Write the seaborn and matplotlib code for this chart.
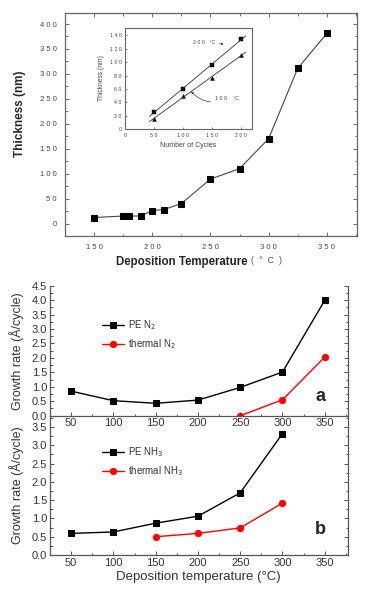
import numpy as np
import matplotlib
matplotlib.use("Agg")
import matplotlib.pyplot as plt
from matplotlib.ticker import MultipleLocator, FuncFormatter
import seaborn as sns

# --- data ---
temps = [150, 175, 180, 190, 200, 210, 225, 250, 275, 300, 325, 350]
thickness = [12, 15, 15, 15, 26, 28, 40, 89, 110, 170, 311, 381]

cycles = [50, 100, 150, 200]
thick_200C = [26, 60, 95, 135]
thick_100C = [15, 50, 77, 110]
fit_span = [42, 208]

dep_temp = [50, 100, 150, 200, 250, 300, 350]
pe_n2 = [0.85, 0.52, 0.43, 0.54, 0.98, 1.51, 3.99]
thermal_n2_temp = [250, 300, 350]
thermal_n2 = [0.0, 0.55, 2.03]

pe_nh3_temp = [50, 100, 150, 200, 250, 300]
pe_nh3 = [0.59, 0.63, 0.87, 1.06, 1.70, 3.32]
thermal_nh3_temp = [150, 200, 250, 300]
thermal_nh3 = [0.50, 0.59, 0.74, 1.42]

sns.set_style("ticks")
plt.rcParams['font.family'] = ['Liberation Sans', 'DejaVu Sans']


def spaced(v, pos=None):
    # the original figure prints its digits letter-spaced
    return " ".join(str(int(round(v))))


fig = plt.figure(figsize=(3.79, 6.06), dpi=100)

# 1. Thickness vs deposition temperature
ax1 = fig.add_axes([0.1715, 0.6106, 0.7705, 0.3679])
sns.lineplot(x=temps, y=thickness, ax=ax1, color='#444444', linewidth=0.8,
             marker='s', markersize=4.5, markerfacecolor='black',
             markeredgecolor='black')
ax1.set_xlim(125, 376)
ax1.set_ylim(-25, 422)
ax1.xaxis.set_major_locator(MultipleLocator(50))
ax1.xaxis.set_minor_locator(MultipleLocator(25))
ax1.yaxis.set_major_locator(MultipleLocator(50))
ax1.yaxis.set_minor_locator(MultipleLocator(25))
ax1.xaxis.set_major_formatter(FuncFormatter(spaced))
ax1.yaxis.set_major_formatter(FuncFormatter(spaced))
ax1.tick_params(which='both', direction='in', top=True, right=True,
                labelsize=5.5, labelcolor='#444444', color='#555555', width=0.6)
ax1.tick_params(which='major', length=3, pad=6)
ax1.tick_params(which='minor', length=1.8)
for s in ax1.spines.values():
    s.set_color('#666666')
    s.set_linewidth(0.9)
ax1.set_ylabel("Thickness (nm)", fontsize=8.5, fontweight='bold')
ax1.yaxis.set_label_coords(-0.133, 0.55)
ax1.set_xlabel("")
fig.text(247 / 379, 1 - 262 / 606, "Deposition Temperature", ha='right',
         va='center', fontsize=8.3, fontweight='bold')
fig.text(251 / 379, 1 - 261 / 606, "(  °  C  )", ha='left', va='center',
         fontsize=6.5, color='#555555')

# inset: thickness vs number of cycles
ins = fig.add_axes([0.33, 0.787, 0.335, 0.1668])
for ys, mk in [(thick_200C, 's'), (thick_100C, '^')]:
    slope, icept = np.polyfit(cycles, ys, 1)
    span = np.array(fit_span)
    sns.lineplot(x=span, y=slope * span + icept, ax=ins, color='#333333',
                 linewidth=0.6)
    sns.scatterplot(x=cycles, y=ys, ax=ins, marker=mk, s=8, color='black',
                    edgecolor='black', linewidth=0.3)
ins.set_xlim(0, 219)
ins.set_ylim(0, 151)
ins.xaxis.set_major_locator(MultipleLocator(50))
ins.yaxis.set_major_locator(MultipleLocator(20))
ins.xaxis.set_major_formatter(FuncFormatter(spaced))
ins.yaxis.set_major_formatter(FuncFormatter(spaced))
ins.tick_params(which='both', direction='in', labelsize=3.8, length=1.5,
                width=0.4, pad=2.5, labelcolor='#444444')
for s in ins.spines.values():
    s.set_color('#666666')
    s.set_linewidth(0.8)
ins.set_xlabel("Number of Cycles", fontsize=5, color='#444444', labelpad=3)
ins.set_ylabel("Thickness (nm)", fontsize=4.8, color='#444444', labelpad=3)
ins.annotate("2 0 0   °C", xy=(170, 127), xytext=(118, 129), fontsize=3.8,
             color='#444444', va='center',
             arrowprops=dict(arrowstyle='-|>', lw=0.4, color='#333333',
                             mutation_scale=3, shrinkA=0, shrinkB=0))
ins.annotate("1 0 0    °C", xy=(114, 56), xytext=(155, 45), fontsize=3.8,
             color='#444444', va='center',
             arrowprops=dict(arrowstyle='-|>', lw=0.5, color='#333333',
                             mutation_scale=3, shrinkA=1, shrinkB=0,
                             connectionstyle='arc3,rad=-0.35'))

# 2. Growth rate panels (b drawn first so a's tick labels sit on top)
axb = fig.add_axes([0.132, 0.0842, 0.785, 0.2298])
axa = fig.add_axes([0.132, 0.314, 0.785, 0.2146])
for ax in (axa, axb):
    ax.patch.set_alpha(0)

sns.lineplot(x=dep_temp, y=pe_n2, ax=axa, color='black', linewidth=1,
             marker='s', markersize=4.5, markeredgecolor='black',
             label='PE N$_2$')
sns.lineplot(x=thermal_n2_temp, y=thermal_n2, ax=axa, color='red',
             linewidth=1, marker='o', markersize=4.5, markeredgecolor='red',
             label='thermal N$_2$')
sns.lineplot(x=pe_nh3_temp, y=pe_nh3, ax=axb, color='black', linewidth=1,
             marker='s', markersize=4.5, markeredgecolor='black',
             label='PE NH$_3$')
sns.lineplot(x=thermal_nh3_temp, y=thermal_nh3, ax=axb, color='red',
             linewidth=1, marker='o', markersize=4.5, markeredgecolor='red',
             label='thermal NH$_3$')

axa.set_ylim(0, 4.5)
axb.set_ylim(0, 3.81)
for ax, tag, leg_y in [(axa, 'a', 0.622), (axb, 'b', 0.671)]:
    ax.set_xlim(25, 377)
    ax.xaxis.set_major_locator(MultipleLocator(50))
    ax.xaxis.set_minor_locator(MultipleLocator(25))
    ax.yaxis.set_major_locator(MultipleLocator(0.5))
    ax.yaxis.set_minor_locator(MultipleLocator(0.25))
    ax.yaxis.set_major_formatter(FuncFormatter(lambda v, p: f"{v:.1f}"))
    ax.tick_params(which='both', direction='in', right=True, width=0.7,
                   labelsize=8, labelcolor='#333333', color='#555555')
    ax.tick_params(which='major', length=3, pad=2)
    ax.tick_params(which='minor', length=1.8)
    ax.spines['top'].set_visible(False)
    for s in ('left', 'right', 'bottom'):
        ax.spines[s].set_color('#555555')
        ax.spines[s].set_linewidth(0.9)
    ax.set_ylabel("Growth rate (Å/cycle)", fontsize=9, color='#333333')
    ax.yaxis.set_label_coords(-0.088, 0.5)
    ax.text(0.91, 0.15 if tag == 'a' else 0.18, tag, transform=ax.transAxes,
            fontsize=13, fontweight='bold', ha='center', va='center')
    ax.legend(loc='center left', bbox_to_anchor=(0.175, leg_y), frameon=False,
              fontsize=7, handlelength=2.3, handletextpad=0.4,
              labelspacing=0.55, borderpad=0, borderaxespad=0,
              labelcolor='#333333')
axa.set_xlabel("")
axb.set_xlabel("Deposition temperature (°C)", fontsize=9.5, color='#333333',
               labelpad=2)

fig.savefig("out.png", dpi=100)
